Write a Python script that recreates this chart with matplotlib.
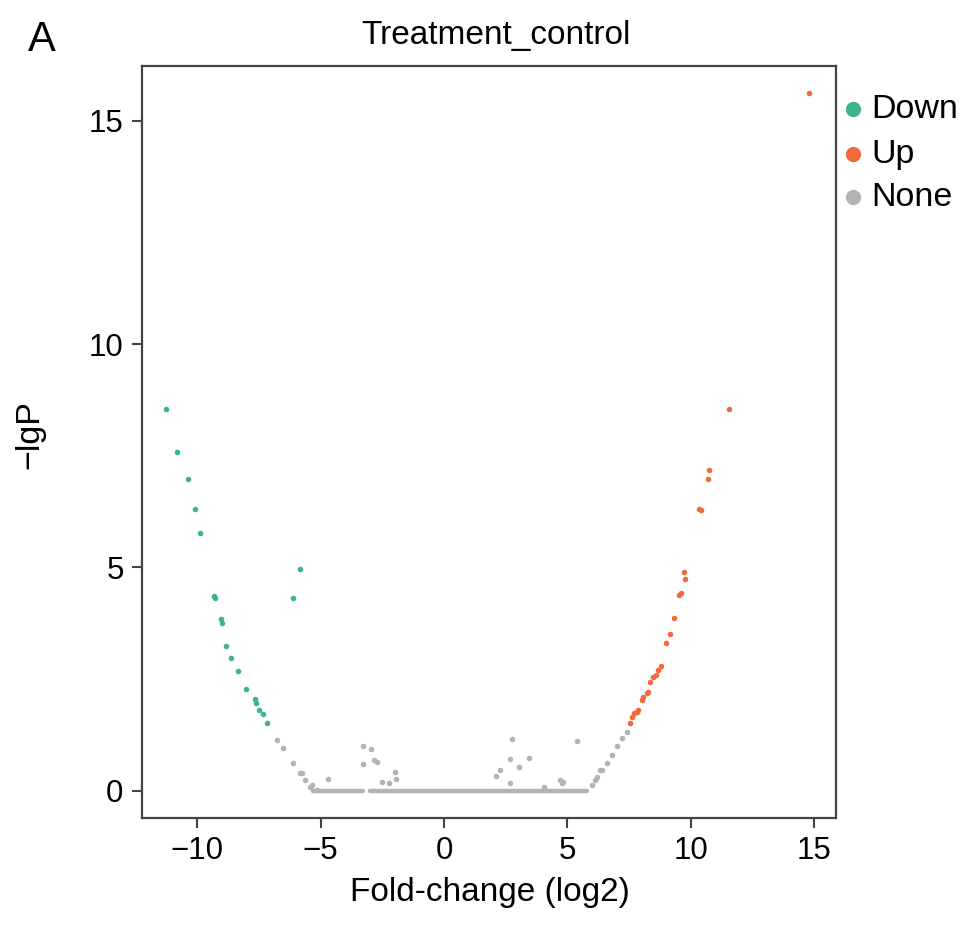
import numpy as np
import matplotlib
matplotlib.use('Agg')
import matplotlib.pyplot as plt

plt.rcParams['font.family'] = ['Liberation Sans', 'DejaVu Sans']

# points (log2 fold change, -lgP)
down_x = [-11.27, -10.81, -10.36, -10.09, -9.89, -5.84, -6.11, -9.32, -9.27, -9.05, -9.00,
          -8.84, -8.65, -8.36, -8.04, -7.66, -7.62, -7.49, -7.33, -7.19]
down_y = [8.54, 7.58, 6.97, 6.30, 5.76, 4.96, 4.31, 4.36, 4.31, 3.84, 3.75,
          3.24, 2.98, 2.68, 2.27, 2.05, 1.96, 1.81, 1.71, 1.51]

up_x = [7.53, 7.60, 7.69, 7.80, 7.87, 8.01, 8.07, 8.21, 8.27, 8.34, 8.48, 8.59, 8.68, 8.78,
        8.99, 9.15, 9.33, 9.53, 9.59, 9.72, 9.76, 10.34, 10.42, 10.68, 10.75, 11.54, 14.78]
up_y = [1.51, 1.66, 1.73, 1.77, 1.81, 2.03, 2.10, 2.18, 2.22, 2.44, 2.55, 2.59, 2.70, 2.79,
        3.30, 3.51, 3.86, 4.38, 4.43, 4.89, 4.73, 6.30, 6.28, 6.97, 7.18, 8.54, 15.62]

none_x = [-6.78, -6.51, -6.11, -5.84, -5.77, -5.64, -5.43, -5.36, -5.16, -4.69,
          -3.30, -2.97, -3.30, -2.84, -2.71, -1.99, -2.53, -2.22, -1.95,
          2.76, 5.37, 2.67, 3.44, 3.03, 2.27, 2.10, 2.67, 4.05, 4.70, 4.81, 4.77,
          5.98, 6.11, 6.18, 6.32, 6.39, 6.59, 6.79, 6.99, 7.20, 7.40]
none_y = [1.13, 0.95, 0.63, 0.39, 0.39, 0.24, 0.09, 0.13, 0.02, 0.26,
          1.01, 0.93, 0.60, 0.69, 0.64, 0.43, 0.20, 0.17, 0.26,
          1.15, 1.12, 0.71, 0.74, 0.54, 0.46, 0.33, 0.17, 0.09, 0.24, 0.20, 0.17,
          0.13, 0.24, 0.30, 0.46, 0.46, 0.63, 0.80, 1.00, 1.17, 1.32]

# genes with -lgP = 0 pile up into a solid band; extents of that band
zero_start = [-5.30, -3.00]
zero_end = [-3.30, 5.80]

groups = ['Down', 'Up', 'None']
colors = ['#3DB48C', '#F26A3C', '#B3B3B3']

xticks = [-10, -5, 0, 5, 10, 15]
yticks = [0, 5, 10, 15]

fig = plt.figure(figsize=(9.69, 9.31), dpi=100)
ax = fig.add_axes([0.1462, 0.1214, 0.7165, 0.8080])

ax.hlines([0] * len(zero_start), zero_start, zero_end, color=colors[2], linewidth=3.2, capstyle='round', zorder=2)
ax.plot(none_x, none_y, 'o', color=colors[2], markersize=4.0, markeredgewidth=0, zorder=3)
ax.plot(down_x, down_y, 'o', color=colors[0], markersize=4.0, markeredgewidth=0, zorder=3)
ax.plot(up_x, up_y, 'o', color=colors[1], markersize=4.0, markeredgewidth=0, zorder=3)

ax.set_xlim(-12.25, 15.88)
ax.set_ylim(-0.61, 16.23)
ax.set_xticks(xticks)
ax.set_yticks(yticks)
ax.tick_params(direction='out', length=7, width=1.5, color='#444444', labelsize=22.5, pad=6)
for spine in ax.spines.values():
    spine.set_linewidth(1.6)
    spine.set_color('#444444')

fig.text(0.512, 0.962, 'Treatment_control', ha='center', va='center', fontsize=24)
fig.text(0.029, 0.957, 'A', ha='left', va='center', fontsize=30)
fig.text(0.506, 0.041, 'Fold-change (log2)', ha='center', va='center', fontsize=24)
fig.text(0.031, 0.533, '\u2212lgP', ha='center', va='center', rotation=90, fontsize=24.5)

# legend drawn by hand to the right of the box
leg_y = [109, 154, 197]
for label, color, py in zip(groups, colors, leg_y):
    yf = 1 - py / 931
    ax.plot([853 / 969], [yf], 'o', color=color, markersize=11, markeredgewidth=0,
            transform=fig.transFigure, clip_on=False)
    fig.text(871 / 969, yf, label, ha='left', va='center', fontsize=24.5)

fig.savefig('out.png', dpi=100)
